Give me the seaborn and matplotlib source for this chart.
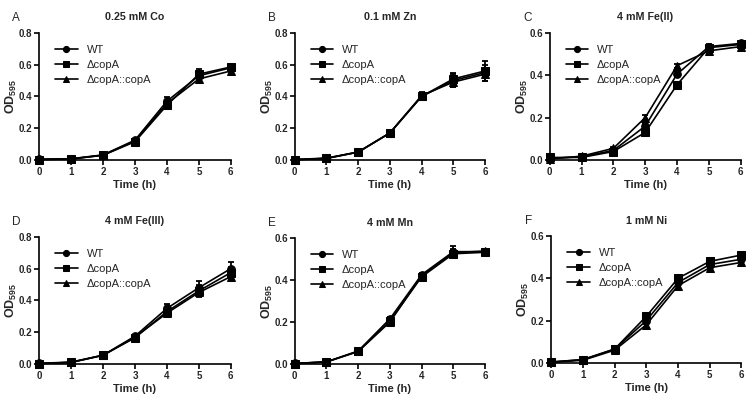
import numpy as np
import pandas as pd
import matplotlib
matplotlib.use("Agg")
import matplotlib.pyplot as plt
import seaborn as sns

# time points (h)
time = [0, 1, 2, 3, 4, 5, 6]
strains = ["WT", "\u0394copA", "\u0394copA::copA"]
panel_letters = ["A", "B", "C", "D", "E", "F"]
panel_titles = ["0.25 mM Co", "0.1 mM Zn", "4 mM Fe(II)", "4 mM Fe(III)", "4 mM Mn", "1 mM Ni"]
y_max = [0.8, 0.8, 0.6, 0.8, 0.6, 0.6]

# mean OD595 per panel, order: WT, ΔcopA, ΔcopA::copA
od_A = [[0.005, 0.008, 0.032, 0.125, 0.370, 0.530, 0.580],
        [0.003, 0.006, 0.030, 0.115, 0.345, 0.540, 0.585],
        [0.004, 0.007, 0.030, 0.120, 0.355, 0.510, 0.560]]
od_B = [[0.003, 0.012, 0.050, 0.170, 0.400, 0.500, 0.550],
        [0.002, 0.010, 0.050, 0.170, 0.400, 0.510, 0.560],
        [0.002, 0.010, 0.050, 0.170, 0.405, 0.490, 0.540]]
od_C = [[0.008, 0.015, 0.045, 0.160, 0.405, 0.535, 0.550],
        [0.012, 0.012, 0.040, 0.130, 0.355, 0.530, 0.545],
        [0.005, 0.018, 0.055, 0.200, 0.445, 0.515, 0.535]]
od_D = [[0.004, 0.012, 0.055, 0.175, 0.350, 0.480, 0.600],
        [0.003, 0.010, 0.055, 0.165, 0.330, 0.460, 0.575],
        [0.003, 0.010, 0.055, 0.170, 0.320, 0.450, 0.550]]
od_E = [[0.003, 0.010, 0.062, 0.215, 0.425, 0.535, 0.535],
        [0.002, 0.010, 0.060, 0.205, 0.415, 0.525, 0.532],
        [0.002, 0.010, 0.060, 0.200, 0.420, 0.530, 0.538]]
od_F = [[0.004, 0.015, 0.065, 0.200, 0.380, 0.465, 0.490],
        [0.003, 0.015, 0.065, 0.220, 0.400, 0.480, 0.510],
        [0.003, 0.012, 0.060, 0.180, 0.365, 0.450, 0.475]]

# error bar half-lengths (SD) per panel, same order
sd_A = [[0.003, 0.003, 0.004, 0.008, 0.025, 0.030, 0.020],
        [0.003, 0.003, 0.004, 0.008, 0.020, 0.030, 0.020],
        [0.003, 0.003, 0.004, 0.008, 0.020, 0.020, 0.015]]
sd_B = [[0.003, 0.003, 0.004, 0.008, 0.020, 0.040, 0.050],
        [0.003, 0.003, 0.004, 0.008, 0.020, 0.040, 0.060],
        [0.003, 0.003, 0.004, 0.008, 0.020, 0.030, 0.040]]
sd_C = [[0.003, 0.003, 0.004, 0.010, 0.015, 0.010, 0.008],
        [0.003, 0.003, 0.004, 0.010, 0.015, 0.010, 0.008],
        [0.003, 0.003, 0.004, 0.010, 0.010, 0.010, 0.008]]
sd_D = [[0.003, 0.003, 0.004, 0.010, 0.030, 0.040, 0.040],
        [0.003, 0.003, 0.004, 0.010, 0.030, 0.035, 0.035],
        [0.003, 0.003, 0.004, 0.010, 0.025, 0.030, 0.030]]
sd_E = [[0.003, 0.003, 0.004, 0.010, 0.010, 0.025, 0.015],
        [0.003, 0.003, 0.004, 0.010, 0.010, 0.020, 0.010],
        [0.003, 0.003, 0.004, 0.010, 0.010, 0.020, 0.010]]
sd_F = [[0.003, 0.003, 0.005, 0.015, 0.015, 0.015, 0.015],
        [0.003, 0.003, 0.005, 0.015, 0.015, 0.015, 0.015],
        [0.003, 0.003, 0.005, 0.015, 0.015, 0.015, 0.015]]

all_od = [od_A, od_B, od_C, od_D, od_E, od_F]
all_sd = [sd_A, sd_B, sd_C, sd_D, sd_E, sd_F]

sns.set_style("ticks")
plt.rcParams["font.family"] = ["Liberation Sans", "DejaVu Sans"]
plt.rcParams["mathtext.fontset"] = "custom"
plt.rcParams["mathtext.rm"] = "Liberation Sans:bold"
plt.rcParams["mathtext.it"] = "Liberation Sans:bold"
plt.rcParams["mathtext.bf"] = "Liberation Sans:bold"

fig = plt.figure(figsize=(7.52, 4.0), dpi=100)

# axes boxes [left, bottom, width, height] in figure fractions
boxes = [[0.052, 0.600, 0.255, 0.318],
         [0.392, 0.600, 0.253, 0.318],
         [0.731, 0.600, 0.254, 0.318],
         [0.052, 0.090, 0.255, 0.318],
         [0.392, 0.090, 0.253, 0.315],
         [0.733, 0.093, 0.253, 0.317]]

markers = {"WT": "o", "\u0394copA": "s", "\u0394copA::copA": "^"}

for i in range(6):
    ax = fig.add_axes(boxes[i])
    rows = []
    for s, name in enumerate(strains):
        for t, v, e in zip(time, all_od[i][s], all_sd[i][s]):
            rows.append({"time": t, "od": v, "sd": e, "strain": name})
    df = pd.DataFrame(rows)

    for name in strains:
        sub = df[df["strain"] == name]
        ax.errorbar(sub["time"], sub["od"], yerr=sub["sd"], fmt="none",
                    ecolor="black", elinewidth=1.3, capsize=2.2, capthick=1.3,
                    clip_on=False, zorder=2)

    sns.lineplot(data=df, x="time", y="od", style="strain", markers=markers,
                 dashes=False, color="black", linewidth=1.2, markersize=5.5,
                 markeredgecolor="black", ax=ax, clip_on=False, zorder=3)

    handles, labels = ax.get_legend_handles_labels()
    ax.legend(handles, labels, frameon=False, loc="upper left",
              bbox_to_anchor=(0.05, 0.96), fontsize=8, handlelength=2.0,
              handletextpad=0.8, labelspacing=0.45, borderaxespad=0.2,
              markerscale=0.8)

    ax.set_xlim(0, 6)
    ax.set_ylim(0, y_max[i])
    ax.set_xticks(time)
    ax.set_yticks(np.arange(0, y_max[i] + 0.01, 0.2))
    ax.set_yticklabels([f"{v:.1f}" for v in np.arange(0, y_max[i] + 0.01, 0.2)])
    ax.set_xlabel("Time (h)", fontsize=8, fontweight="bold", labelpad=2)
    ax.set_ylabel(r"$\mathrm{OD_{595}}$", fontsize=9)
    ax.yaxis.set_label_coords(-0.105, 0.5)
    ax.set_title(panel_titles[i], fontsize=7.7, fontweight="bold", pad=9)
    ax.text(-0.14, 1.12, panel_letters[i], transform=ax.transAxes,
            fontsize=8.5, ha="left", va="center")

    for side in ["top", "right"]:
        ax.spines[side].set_visible(False)
    for side in ["left", "bottom"]:
        ax.spines[side].set_linewidth(1.2)
        ax.spines[side].set_color("black")
    ax.tick_params(axis="both", length=3.5, width=1.2, labelsize=7, pad=1.5,
                   color="black")
    for lab in ax.get_xticklabels() + ax.get_yticklabels():
        lab.set_fontweight("bold")

fig.savefig("out.png", dpi=100, facecolor="white")
